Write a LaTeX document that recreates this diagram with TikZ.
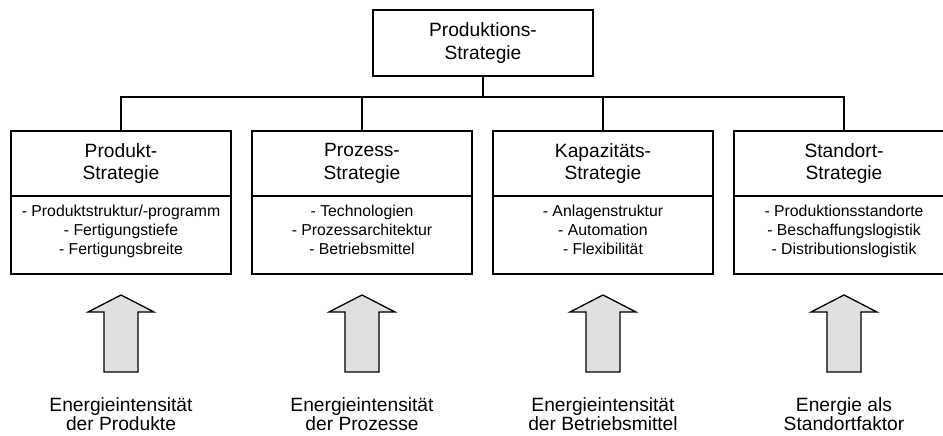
\documentclass[tikz,border=0pt]{standalone}
\usepackage{fontspec}
\setmainfont{Liberation Sans}
\usetikzlibrary{positioning}

\begin{document}
\begin{tikzpicture}[x=1pt,y=-1pt,
	strat/.style={draw,line width=1.9pt,outer sep=0pt,inner sep=0pt,minimum width=220pt,align=center,font=\fontsize{19.2}{22.3}\selectfont},
	liste/.style={draw,line width=1.9pt,outer sep=0pt,inner sep=0pt,minimum width=220pt,minimum height=78pt,align=center,font=\fontsize{15.8}{18.7}\selectfont},
	quelle/.style={inner sep=0pt,align=center,font=\fontsize{19.2}{17.7}\selectfont},
	pfeil/.style={draw=black,line width=1.3pt,fill=black!12,line join=miter}]
\useasboundingbox (0,0) rectangle (943,436);

\node[strat,minimum height=66pt] (ps) at (483,43) {Produktions-\\Strategie};

\foreach \i/\x/\k/\l/\e in {
	1/121/{Produkt-\\Strategie}/{- Produktstruktur/-programm\\- Fertigungstiefe\\- Fertigungsbreite}/{Energieintensität\\der Produkte},
	2/362/{Prozess-\\Strategie}/{- Technologien\\- Prozessarchitektur\\- Betriebsmittel}/{Energieintensität\\der Prozesse},
	3/603/{Kapazitäts-\\Strategie}/{- Anlagenstruktur\\- Automation\\- Flexibilität}/{Energieintensität\\der Betriebsmittel},
	4/844/{Standort-\\Strategie}/{- Produktionsstandorte\\- Beschaffungslogistik\\- Distributionslogistik}/{Energie als\\Standortfaktor}}{
	\node[strat,minimum height=65pt] (k\i) at (\x,163.5) {\k};
	\node[liste,below=0pt of k\i] (l\i) {\l\\[-8pt]};
	\node[quelle] (e\i) at (\x,414) {\e};
	\draw[line width=1.9pt] (ps.south) -- ++(0,21) -| (k\i.north);
	\draw[pfeil,shift={(\x,0)}] (0,295) -- (33,312) -- (17,312) -- (17,372) -- (-17,372) -- (-17,312) -- (-33,312) -- cycle;
	}

\end{tikzpicture}
\end{document}
